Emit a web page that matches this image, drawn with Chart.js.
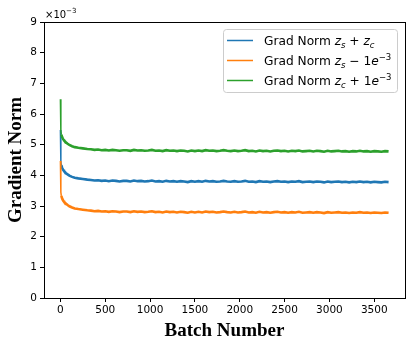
<!DOCTYPE html>
<html>
<head>
<meta charset="utf-8">
<script src="https://cdn.jsdelivr.net/npm/chart.js@4"></script>
<style>
  html, body { margin: 0; padding: 0; background: #fff; }
  #wrap { width: 415px; height: 346px; position: relative; }
</style>
</head>
<body>
<div id="wrap"><canvas id="chart" width="415" height="346"></canvas></div>
<script>
// values in units of 1e-3 (axis carries the x10^-3 offset)
const batches = [
  0, 5, 10, 20, 30, 40, 60, 80, 100, 130, 160, 200, 250, 300,
  340, 380, 420, 460, 500, 540, 580, 620, 660, 700,
  740, 780, 820, 860, 900, 940, 980, 1020, 1060, 1100,
  1140, 1180, 1220, 1260, 1300, 1340, 1380, 1420, 1460, 1500,
  1540, 1580, 1620, 1660, 1700, 1740, 1780, 1820, 1860, 1900,
  1940, 1980, 2020, 2060, 2100, 2140, 2180, 2220, 2260, 2300,
  2340, 2380, 2420, 2460, 2500, 2540, 2580, 2620, 2660, 2700,
  2740, 2780, 2820, 2860, 2900, 2940, 2980, 3020, 3060, 3100,
  3140, 3180, 3220, 3260, 3300, 3340, 3380, 3420, 3460, 3500,
  3540, 3580, 3620, 3660
];

const normSum = [
  5.48, 4.45, 4.33, 4.24, 4.18, 4.14, 4.08, 4.03, 3.99, 3.95, 3.92, 3.90, 3.88, 3.86,
  3.85, 3.83, 3.84, 3.82, 3.83, 3.81, 3.83, 3.82, 3.80, 3.82,
  3.82, 3.80, 3.83, 3.81, 3.82, 3.80, 3.81, 3.83, 3.80, 3.81,
  3.79, 3.82, 3.80, 3.81, 3.79, 3.81, 3.80, 3.78, 3.81, 3.79,
  3.81, 3.79, 3.82, 3.80, 3.81, 3.79, 3.80, 3.82, 3.80, 3.79,
  3.81, 3.79, 3.80, 3.82, 3.79, 3.80, 3.78, 3.81, 3.79, 3.80,
  3.78, 3.80, 3.81, 3.79, 3.80, 3.78, 3.80, 3.79, 3.81, 3.78,
  3.79, 3.80, 3.78, 3.80, 3.79, 3.77, 3.80, 3.78, 3.79, 3.80,
  3.78, 3.79, 3.77, 3.79, 3.78, 3.80, 3.78, 3.79, 3.77, 3.79,
  3.78, 3.77, 3.79, 3.78
];

const normZsMinus = [
  4.47, 3.45, 3.33, 3.24, 3.18, 3.14, 3.08, 3.03, 2.99, 2.95, 2.92, 2.90, 2.88, 2.86,
  2.85, 2.83, 2.84, 2.82, 2.83, 2.81, 2.83, 2.82, 2.80, 2.82,
  2.82, 2.80, 2.83, 2.81, 2.82, 2.80, 2.81, 2.83, 2.80, 2.81,
  2.79, 2.82, 2.80, 2.81, 2.79, 2.81, 2.80, 2.78, 2.81, 2.79,
  2.81, 2.79, 2.82, 2.80, 2.81, 2.79, 2.80, 2.82, 2.80, 2.79,
  2.81, 2.79, 2.80, 2.82, 2.79, 2.80, 2.78, 2.81, 2.79, 2.80,
  2.78, 2.80, 2.81, 2.79, 2.80, 2.78, 2.80, 2.79, 2.81, 2.78,
  2.79, 2.80, 2.78, 2.80, 2.79, 2.77, 2.80, 2.78, 2.79, 2.80,
  2.78, 2.79, 2.77, 2.79, 2.78, 2.80, 2.78, 2.79, 2.77, 2.79,
  2.78, 2.77, 2.79, 2.78
];

const normZcPlus = [
  6.48, 5.45, 5.33, 5.24, 5.18, 5.14, 5.08, 5.03, 4.99, 4.95, 4.92, 4.90, 4.88, 4.86,
  4.85, 4.83, 4.84, 4.82, 4.83, 4.81, 4.83, 4.82, 4.80, 4.82,
  4.82, 4.80, 4.83, 4.81, 4.82, 4.80, 4.81, 4.83, 4.80, 4.81,
  4.79, 4.82, 4.80, 4.81, 4.79, 4.81, 4.80, 4.78, 4.81, 4.79,
  4.81, 4.79, 4.82, 4.80, 4.81, 4.79, 4.80, 4.82, 4.80, 4.79,
  4.81, 4.79, 4.80, 4.82, 4.79, 4.80, 4.78, 4.81, 4.79, 4.80,
  4.78, 4.80, 4.81, 4.79, 4.80, 4.78, 4.80, 4.79, 4.81, 4.78,
  4.79, 4.80, 4.78, 4.80, 4.79, 4.77, 4.80, 4.78, 4.79, 4.80,
  4.78, 4.79, 4.77, 4.79, 4.78, 4.80, 4.78, 4.79, 4.77, 4.79,
  4.78, 4.77, 4.79, 4.78
];

const xTicks = [0, 500, 1000, 1500, 2000, 2500, 3000, 3500];
const yTicks = [0, 1, 2, 3, 4, 5, 6, 7, 8, 9];

// legend labels as mathtext pieces
const legendLabels = [
  [['Grad Norm ', 'n'], ['z', 'i'], ['s', 'sub'], [' + ', 'n'], ['z', 'i'], ['c', 'sub']],
  [['Grad Norm ', 'n'], ['z', 'i'], ['s', 'sub'], [' \u2212 1', 'n'], ['e', 'i'], ['\u22123', 'sup']],
  [['Grad Norm ', 'n'], ['z', 'i'], ['c', 'sub'], [' + 1', 'n'], ['e', 'i'], ['\u22123', 'sup']],
];
const seriesColors = ['#1f77b4', '#ff7f0e', '#2ca02c'];

const TICK_FONT = { family: 'DejaVu Sans', size: 10.5 };
const TITLE_FONT = { family: 'Liberation Serif', size: 19, weight: 'bold' };

function toPoints(ys) {
  return batches.map((b, i) => ({ x: b, y: ys[i] }));
}

function drawMath(ctx, x, y, parts, size) {
  parts.forEach(([t, kind]) => {
    let f = size, dy = 0, style = '';
    if (kind === 'i') style = 'italic ';
    if (kind === 'sub') { f = size * 0.7; dy = size * 0.22; style = 'italic '; }
    if (kind === 'sup') { f = size * 0.7; dy = -size * 0.38; }
    ctx.font = `${style}${f}px "DejaVu Sans"`;
    ctx.fillText(t, x, y + dy);
    x += ctx.measureText(t).width;
  });
}

const frameAndLegend = {
  id: 'frameAndLegend',
  afterDraw(chart) {
    const { ctx, chartArea: a } = chart;
    ctx.save();
    // full box like matplotlib spines
    ctx.strokeStyle = '#000';
    ctx.lineWidth = 1;
    ctx.strokeRect(Math.round(a.left) + 0.5, Math.round(a.top) + 0.5,
      Math.round(a.right - a.left), Math.round(a.bottom - a.top));

    // offset text
    ctx.fillStyle = '#000';
    ctx.textBaseline = 'alphabetic';
    ctx.font = '10px "DejaVu Sans"';
    ctx.fillText('\u00d710', a.left + 1, a.top - 4);
    const w = ctx.measureText('\u00d710').width;
    ctx.font = '7px "DejaVu Sans"';
    ctx.fillText('\u22123', a.left + 1 + w, a.top - 9);

    // legend
    const bx = 223, by = 29, bw = 174, bh = 63;
    ctx.beginPath();
    ctx.roundRect(bx + 0.5, by + 0.5, bw, bh, 3);
    ctx.fillStyle = 'rgba(255,255,255,0.8)';
    ctx.fill();
    ctx.strokeStyle = '#cccccc';
    ctx.stroke();
    const rows = [40.5, 60.5, 80.5];
    legendLabels.forEach((parts, i) => {
      ctx.strokeStyle = seriesColors[i];
      ctx.lineWidth = 1.5;
      ctx.beginPath();
      ctx.moveTo(227, rows[i]);
      ctx.lineTo(253, rows[i]);
      ctx.stroke();
      ctx.fillStyle = '#000';
      drawMath(ctx, 264, rows[i] + 4.5, parts, 12.2);
    });
    ctx.restore();
  },
};

new Chart(document.getElementById('chart'), {
  type: 'line',
  data: {
    datasets: [
      { label: 'Grad Norm zs + zc', data: toPoints(normSum), borderColor: seriesColors[0], order: 3 },
      { label: 'Grad Norm zs - 1e-3', data: toPoints(normZsMinus), borderColor: seriesColors[1], order: 2 },
      { label: 'Grad Norm zc + 1e-3', data: toPoints(normZcPlus), borderColor: seriesColors[2], order: 1 },
    ].map((d) => ({
      ...d,
      borderWidth: 2.6,
      pointRadius: 0,
      tension: 0,
      fill: false,
      // the first near-vertical drop is a thin single trace, the noisy tail reads as a band
      segment: { borderWidth: (c) => (c.p0DataIndex < 2 ? 1.5 : 2.6) },
    })),
  },
  options: {
    responsive: false,
    animation: false,
    events: [],
    layout: { padding: { top: 22, right: 10, left: 0, bottom: 0 } },
    plugins: { legend: { display: false }, tooltip: { enabled: false } },
    scales: {
      x: {
        type: 'linear',
        min: -183,
        max: 3843,
        afterBuildTicks: (s) => { s.ticks = xTicks.map((v) => ({ value: v })); },
        afterFit: (s) => { s.height = 48; },
        grid: { drawOnChartArea: false, tickLength: 4, tickColor: '#000' },
        border: { color: '#000' },
        ticks: { color: '#000', font: TICK_FONT, padding: 2, maxRotation: 0, callback: (v) => String(v) },
        title: { display: true, text: 'Batch Number', color: '#000', font: TITLE_FONT, padding: { top: 0 } },
      },
      y: {
        min: 0,
        max: 9,
        afterBuildTicks: (s) => { s.ticks = yTicks.map((v) => ({ value: v })); },
        afterFit: (s) => { s.width = 44; },
        grid: { drawOnChartArea: false, tickLength: 4, tickColor: '#000' },
        border: { color: '#000' },
        ticks: { color: '#000', font: TICK_FONT, padding: 3, callback: (v) => String(v) },
        title: { display: true, text: 'Gradient Norm', color: '#000', font: TITLE_FONT, padding: { bottom: 0, top: 5 } },
      },
    },
  },
  plugins: [frameAndLegend],
});
</script>
</body>
</html>
